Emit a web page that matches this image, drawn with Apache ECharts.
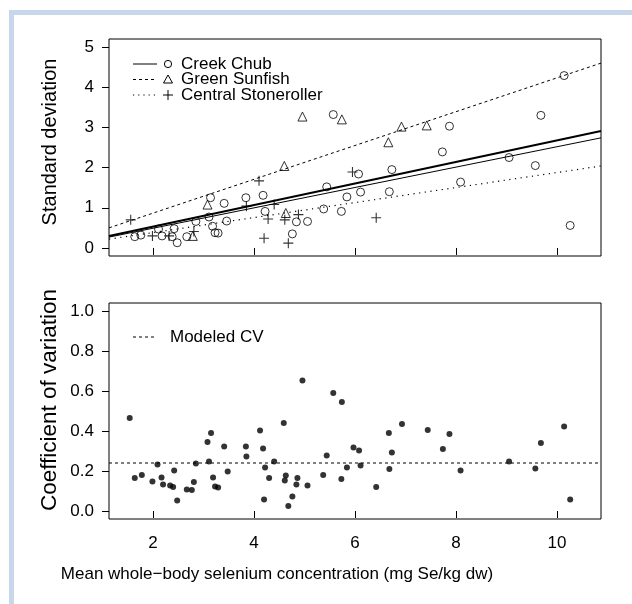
<!DOCTYPE html>
<html>
<head>
<meta charset="utf-8">
<script src="https://cdn.jsdelivr.net/npm/echarts@6/dist/echarts.min.js"></script>
<style>
  html, body { margin: 0; padding: 0; background: #fff; }
  #chart { width: 632px; height: 604px; }
</style>
</head>
<body>
<div id="chart"></div>
<script>
// tick positions
const xTicks = [2, 4, 6, 8, 10]
const sdTicks = [0, 1, 2, 3, 4, 5]
const cvTicks = [0, 0.2, 0.4, 0.6, 0.8, 1.0]

// top panel: [mean Se, SD]
const creekChub = [
  [1.64, 0.28], [1.76, 0.32], [2.11, 0.47], [2.18, 0.30], [2.38, 0.28], [2.42, 0.48],
  [2.48, 0.13], [2.67, 0.28], [2.85, 0.66], [3.11, 0.77], [3.14, 1.25], [3.18, 0.54],
  [3.23, 0.38], [3.29, 0.37], [3.41, 1.11], [3.46, 0.67], [3.84, 1.25], [4.18, 1.31],
  [4.22, 0.91], [4.76, 0.35], [4.84, 0.65], [5.06, 0.66], [5.38, 0.97], [5.44, 1.52],
  [5.57, 3.32], [5.73, 0.91], [5.84, 1.27], [6.07, 1.84], [6.11, 1.39], [6.68, 1.40],
  [6.73, 1.95], [7.73, 2.39], [7.87, 3.03], [8.09, 1.64], [9.05, 2.25], [9.57, 2.05],
  [9.68, 3.30], [10.14, 4.29], [10.26, 0.56]
]
const greenSunfish = [
  [2.79, 0.30], [3.08, 1.08], [4.60, 2.04], [4.63, 0.87], [4.96, 3.27],
  [5.74, 3.20], [6.66, 2.63], [6.92, 3.02], [7.42, 3.05]
]
const centralStoneroller = [
  [1.56, 0.70], [1.99, 0.30], [2.32, 0.30], [2.81, 0.41], [3.85, 1.04], [4.10, 1.67],
  [4.20, 0.24], [4.28, 0.72], [4.40, 1.08], [4.61, 0.70], [4.68, 0.12], [4.88, 0.83],
  [5.95, 1.89], [6.42, 0.75]
]

// fitted lines, read at the plot edges
const creekChubFit = [[1.13, 0.30], [10.87, 2.91]]
const pooledFit = [[1.13, 0.27], [10.87, 2.74]]
const greenSunfishFit = [[1.13, 0.50], [10.87, 4.60]]
const stonerollerFit = [[1.13, 0.22], [10.87, 2.04]]

// bottom panel: [mean Se, CV]
const cvPoints = [
  [1.54, 0.465], [1.64, 0.165], [1.78, 0.18], [1.99, 0.147], [2.09, 0.233], [2.17, 0.167],
  [2.20, 0.132], [2.34, 0.127], [2.40, 0.12], [2.42, 0.203], [2.48, 0.052], [2.67, 0.107],
  [2.77, 0.105], [2.81, 0.145], [2.85, 0.237], [3.08, 0.345], [3.15, 0.39], [3.11, 0.248],
  [3.19, 0.167], [3.23, 0.123], [3.29, 0.117], [3.41, 0.322], [3.48, 0.197], [3.84, 0.323],
  [3.85, 0.272], [4.12, 0.402], [4.18, 0.313], [4.20, 0.058], [4.22, 0.217], [4.30, 0.165],
  [4.40, 0.248], [4.59, 0.44], [4.61, 0.153], [4.63, 0.178], [4.68, 0.025], [4.76, 0.073],
  [4.84, 0.132], [4.86, 0.165], [4.96, 0.653], [5.06, 0.128], [5.37, 0.18], [5.44, 0.278],
  [5.57, 0.59], [5.74, 0.545], [5.73, 0.16], [5.84, 0.218], [5.97, 0.318], [6.08, 0.303],
  [6.11, 0.228], [6.42, 0.12], [6.67, 0.39], [6.73, 0.292], [6.68, 0.21], [6.93, 0.435],
  [7.44, 0.405], [7.74, 0.31], [7.87, 0.385], [8.09, 0.203], [9.05, 0.248], [9.57, 0.213],
  [9.68, 0.34], [10.14, 0.422], [10.26, 0.057]
]
const modeledCV = [[1.13, 0.24], [10.87, 0.24]]

const FONT = '"Liberation Sans", Arial, sans-serif'
const plusPath = 'path://M0,5L10,5M5,0L5,10'

const chart = echarts.init(document.getElementById('chart'))

function xAxis(gridIndex, labels) {
  return {
    type: 'value', gridIndex, min: 1.13, max: 10.87,
    axisLine: { show: false },
    axisTick: { show: true, inside: false, length: 7, customValues: xTicks, lineStyle: { color: '#000' } },
    axisLabel: { show: labels, customValues: xTicks, margin: 16, color: '#000', fontSize: 17, fontFamily: FONT },
    splitLine: { show: false },
  }
}
function yAxis(gridIndex, min, max, ticks, fmt) {
  return {
    type: 'value', gridIndex, min, max,
    axisLine: { show: false },
    axisTick: { show: true, inside: false, length: 7, customValues: ticks, lineStyle: { color: '#000' } },
    axisLabel: { customValues: ticks, margin: 15, color: '#000', fontSize: 17, fontFamily: FONT, formatter: fmt },
    splitLine: { show: false },
  }
}

// legend sample lines and symbols
function legendRow(y, dash, symbol, label) {
  return [
    { type: 'line', shape: { x1: 133, y1: y, x2: 157, y2: y }, style: { stroke: '#000', lineWidth: 1, lineDash: dash } },
    symbol(168, y),
    { type: 'text', x: 181, y, style: { text: label, font: '17px ' + FONT, fill: '#000', textVerticalAlign: 'middle' } },
  ]
}
const circleSym = (x, y) => ({ type: 'circle', shape: { cx: x, cy: y, r: 3.6 }, style: { fill: 'none', stroke: '#000', lineWidth: 1 } })
const triSym = (x, y) => ({ type: 'polygon', shape: { points: [[x, y - 4.5], [x + 4.5, y + 3.5], [x - 4.5, y + 3.5]] }, style: { fill: 'none', stroke: '#000', lineWidth: 1 } })
const plusSym = (x, y) => ({ type: 'group', children: [
  { type: 'line', shape: { x1: x - 5, y1: y, x2: x + 5, y2: y }, style: { stroke: '#000', lineWidth: 1 } },
  { type: 'line', shape: { x1: x, y1: y - 5, x2: x, y2: y + 5 }, style: { stroke: '#000', lineWidth: 1 } },
] })

const option = {
  animation: false,
  backgroundColor: '#fff',
  grid: [
    { left: 109, top: 39, width: 492, height: 217, show: true, borderColor: '#000', borderWidth: 1, backgroundColor: 'transparent' },
    { left: 109, top: 303, width: 492, height: 216, show: true, borderColor: '#000', borderWidth: 1, backgroundColor: 'transparent' },
  ],
  xAxis: [xAxis(0, false), xAxis(1, true)],
  yAxis: [
    yAxis(0, -0.2, 5.2, sdTicks, (v) => String(v)),
    yAxis(1, -0.04, 1.04, cvTicks, (v) => v.toFixed(1)),
  ],
  graphic: [
    // page frame
    { type: 'rect', shape: { x: 9, y: 10, width: 623, height: 5 }, style: { fill: '#c8d6ec' } },
    { type: 'rect', shape: { x: 9, y: 10, width: 5, height: 594 }, style: { fill: '#c8d6ec' } },
    ...legendRow(64, null, circleSym, 'Creek Chub'),
    ...legendRow(79.5, [3, 3], triSym, 'Green Sunfish'),
    ...legendRow(95, [1.2, 4], plusSym, 'Central Stoneroller'),
    { type: 'line', shape: { x1: 133, y1: 337, x2: 157, y2: 337 }, style: { stroke: '#000', lineWidth: 1, lineDash: [3, 3] } },
    { type: 'text', x: 170, y: 337, style: { text: 'Modeled CV', font: '17px ' + FONT, fill: '#000', textVerticalAlign: 'middle' } },
    // axis titles
    { type: 'text', x: 277, y: 574, style: { text: 'Mean whole\u2212body selenium concentration (mg Se/kg dw)', font: '17px ' + FONT, fill: '#000', textAlign: 'center', textVerticalAlign: 'middle' } },
    { type: 'text', x: 50, y: 142, rotation: Math.PI / 2, style: { text: 'Standard deviation', font: '20px ' + FONT, fill: '#000', textAlign: 'center', textVerticalAlign: 'middle' } },
    { type: 'text', x: 50, y: 400, rotation: Math.PI / 2, style: { text: 'Coefficient of variation', font: '22.5px ' + FONT, fill: '#000', textAlign: 'center', textVerticalAlign: 'middle' } },
  ],
  series: [
    { name: 'Creek Chub', type: 'scatter', xAxisIndex: 0, yAxisIndex: 0, data: creekChub, symbol: 'circle', symbolSize: 8,
      itemStyle: { color: 'transparent', borderColor: '#000', borderWidth: 1 } },
    { name: 'Green Sunfish', type: 'scatter', xAxisIndex: 0, yAxisIndex: 0, data: greenSunfish, symbol: 'triangle', symbolSize: 9,
      itemStyle: { color: 'transparent', borderColor: '#000', borderWidth: 1 } },
    { name: 'Central Stoneroller', type: 'scatter', xAxisIndex: 0, yAxisIndex: 0, data: centralStoneroller, symbol: plusPath, symbolSize: 10,
      itemStyle: { color: 'transparent', borderColor: '#000', borderWidth: 1.1 } },
    { type: 'line', xAxisIndex: 0, yAxisIndex: 0, data: creekChubFit, showSymbol: false, lineStyle: { color: '#000', width: 2 } },
    { type: 'line', xAxisIndex: 0, yAxisIndex: 0, data: pooledFit, showSymbol: false, lineStyle: { color: '#000', width: 1 } },
    { type: 'line', xAxisIndex: 0, yAxisIndex: 0, data: greenSunfishFit, showSymbol: false, lineStyle: { color: '#000', width: 1, type: [3, 3] } },
    { type: 'line', xAxisIndex: 0, yAxisIndex: 0, data: stonerollerFit, showSymbol: false, lineStyle: { color: '#000', width: 1.2, type: [1.2, 4.5] } },
    { name: 'CV', type: 'scatter', xAxisIndex: 1, yAxisIndex: 1, data: cvPoints, symbol: 'circle', symbolSize: 6,
      itemStyle: { color: '#000' } },
    { name: 'Modeled CV', type: 'line', xAxisIndex: 1, yAxisIndex: 1, data: modeledCV, showSymbol: false, lineStyle: { color: '#000', width: 1, type: [3, 3] } },
  ],
}

chart.setOption(option)
</script>
</body>
</html>
